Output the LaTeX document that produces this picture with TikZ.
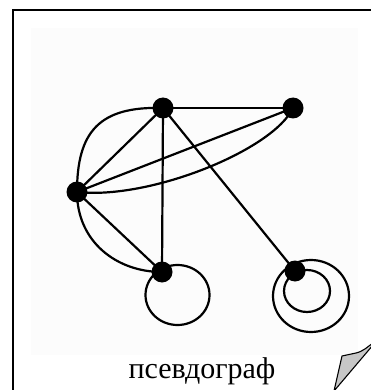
\documentclass[tikz,border=0pt]{standalone}
\usepackage{fontspec}
\setmainfont{Liberation Serif}
\usetikzlibrary{calc}
\begin{document}
\begin{tikzpicture}[x=1pt,y=-1pt,
  vertex/.style={circle,fill=black,draw=none,minimum size=21pt,inner sep=0pt},
  edge/.style={line width=2.2pt,line cap=round},
  framing/.style={line width=2.2pt},
  curl/.style={fill=black!22,draw=black,line width=1.1pt,line join=round}]
  \useasboundingbox (0,0) rectangle (371,390);
  \begin{scope}
    \clip (0,0) rectangle (371,390);
    % page frame and faint figure area
    \fill[black!1] (31,28) rectangle (358,355);
    \draw[framing] (13,391) -- (13,10) -- (372,10);
    % vertices
    \node[vertex] (A) at (163,108) {};
    \node[vertex] (B) at (293,108) {};
    \node[vertex] (C) at (77,192) {};
    \node[vertex] (D) at (162,272) {};
    \node[vertex] (E) at (295,271) {};
    % straight edges
    \draw[edge] (A.center) -- (B.center);
    \draw[edge] (A.center) -- (C.center);
    \draw[edge] (A.center) -- (D.center);
    \draw[edge] (A.center) -- (E.center);
    \draw[edge] (C.center) -- (B.center);
    \draw[edge] (C.center) -- (D.center);
    % curved (multiple) edges
    \draw[edge] (A.center) .. controls ($(A)+(-64,-2)$) and ($(C)+(0,-60)$) .. (C.center);
    \draw[edge] (C.center) .. controls ($(C)+(0,50)$) and ($(D)+(-45,0)$) .. (D.center);
    \draw[edge] (C.center) .. controls ($(C)+(73,8)$) and ($(B)+(-20,42)$) .. (B.center);
    % loops
    \draw[edge] ($(D)+(15.5,23)$) ellipse [x radius=32, y radius=30];
    \draw[edge] ($(E)+(16,25)$) ellipse [x radius=38, y radius=36];
    \draw[edge] ($(E)+(12,20)$) ellipse [x radius=23, y radius=21];
    % caption
    \node[anchor=base,font=\fontsize{30}{32}\selectfont,inner sep=0pt] (cap) at (202,378) {псевдограф};
    % curled page corner
    \draw[curl] (334,391) -- (342,356) -- (356,353) .. controls (364,351) and (367,347) .. (373,343) -- (373,345) -- cycle;
  \end{scope}
\end{tikzpicture}
\end{document}
